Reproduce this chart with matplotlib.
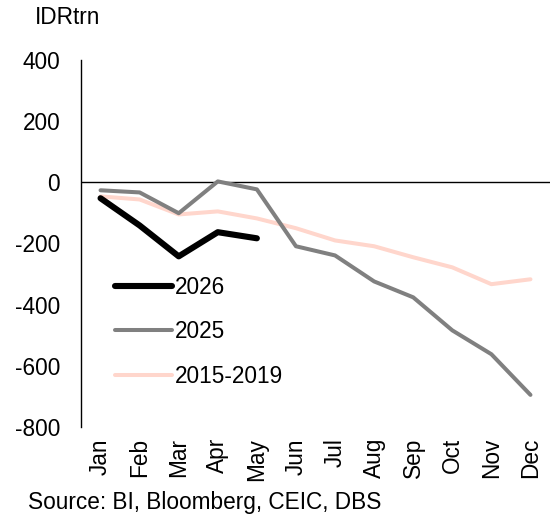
import numpy as np
import matplotlib
matplotlib.use("Agg")
import matplotlib.pyplot as plt

plt.rcParams.update({'font.family': ['Liberation Sans', 'DejaVu Sans'], 'font.size': 16.3,
                     'axes.unicode_minus': False})

months = ["Jan", "Feb", "Mar", "Apr", "May", "Jun", "Jul", "Aug", "Sep", "Oct", "Nov", "Dec"]
y2026 = [-52, -141, -242, -163, -183]
y2025 = [-26, -33, -101, 3, -23, -209, -239, -324, -376, -484, -562, -695]
y1519 = [-46, -56, -105, -95, -118, -150, -190, -209, -245, -278, -333, -317]

fig = plt.figure(figsize=(5.5, 5.16), dpi=100)
ax = fig.add_axes([81/550, (516-427)/516, (550-81)/550, (427-60)/516])

x = np.arange(len(months))
ax.plot(x[:len(y2026)], y2026, color='black', lw=4.4, label='2026', solid_capstyle='round', zorder=4)
ax.plot(x, y2025, color='#808080', lw=2.9, label='2025', solid_capstyle='round', zorder=3)
ax.plot(x, y1519, color='#FFD6CC', lw=2.9, label='2015-2019', solid_capstyle='round', zorder=2)

ax.axhline(0, color='black', lw=1.0, zorder=1)
ax.set_xlim(-0.5, 11.5)
ax.set_ylim(-800, 400)
ax.set_yticks(np.arange(-800, 401, 200))
ax.set_xticks(x)
ax.set_xticklabels(months, rotation=90, va='top', ha='center')
ax.tick_params(axis='both', length=0)
ax.tick_params(axis='y', pad=15)
ax.tick_params(axis='x', pad=8)
for s in ['top', 'right', 'bottom']:
    ax.spines[s].set_visible(False)
ax.spines['left'].set_linewidth(1.0)

ax.legend(loc='upper left', bbox_to_anchor=((115-81)/469, (427-276)/367), frameon=False,
          handlelength=2.5, handletextpad=0.15, labelspacing=0.94, borderpad=0, borderaxespad=0)

fig.text(35/550, 1 - 18/516, "IDRtrn", ha='left', va='center')
fig.text(28/550, 1 - 503/516, "Source: BI, Bloomberg, CEIC, DBS", ha='left', va='center')

fig.savefig("out.png", dpi=100, facecolor='white')
